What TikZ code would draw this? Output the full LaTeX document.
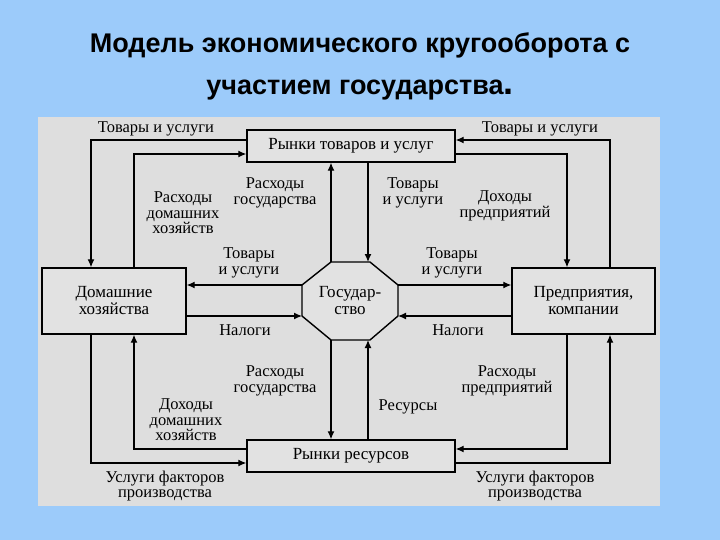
\documentclass[tikz,border=0pt]{standalone}
\usepackage{fontspec}
\setmainfont{Liberation Serif}
\newfontfamily\titlefont{Liberation Sans}
\usetikzlibrary{arrows.meta}
\definecolor{bgblue}{HTML}{9CCBFA}
\definecolor{panel}{HTML}{DEDEDE}
\definecolor{boxfill}{HTML}{E2E2E2}
\begin{document}
\begin{tikzpicture}[x=1pt,y=-1pt,
  box/.style={draw,line width=1.4pt,fill=boxfill,font=\fontsize{17}{17}\selectfont,align=center,inner sep=0pt},
  lbl/.style={font=\fontsize{16.5}{15.5}\selectfont,align=center,inner sep=1pt},
  flow/.style={line width=1.2pt,-{Latex[length=8pt,width=7pt]}}]
\fill[bgblue] (0,0) rectangle (720,540);
\useasboundingbox (0,0) rectangle (720,540);
\fill[panel] (38,117) rectangle (660,506);
\node[font=\titlefont\bfseries\fontsize{27}{28}\selectfont] (t1) at (360,45) {Модель экономического кругооборота с};
\node[font=\titlefont\bfseries\fontsize{27}{28}\selectfont] (t2) at (360,90) {участием государства\raisebox{0pt}{\fontsize{36}{36}\selectfont.}};
% boxes
\node[box,minimum width=208pt,minimum height=32pt] (gm) at (351,146) {Рынки товаров и услуг};
\node[box,minimum width=208pt,minimum height=32pt] (rm) at (351,456) {Рынки ресурсов};
\node[box,minimum width=144pt,minimum height=66pt] (hh) at (114,301) {Домашние\\хозяйства};
\node[box,minimum width=143pt,minimum height=66pt] (fi) at (583.5,301) {Предприятия,\\компании};
\draw[line width=1.4pt,fill=boxfill] (331,262)--(370,262)--(398,285)--(398,316)--(370,340)--(331,340)--(302,316)--(302,285)--cycle;
\node[font=\fontsize{17}{17}\selectfont,align=center] (gov) at (350,301) {Государ-\\ство};
\coordinate (govN) at (331,262); \coordinate (govN2) at (368,262);
\coordinate (govS) at (331,340); \coordinate (govS2) at (368,340);
% top loops
\coordinate (a1) at (91,140); \coordinate (a2) at (134,154);
\draw[flow] (gm.west |- a1) -| (hh.north -| a1);
\draw[flow] (hh.north -| a2) |- (gm.west |- a2);
\coordinate (b1) at (610,140); \coordinate (b2) at (567,154);
\draw[flow] (fi.north -| b1) |- (gm.east |- b1);
\draw[flow] (gm.east |- b2) -| (fi.north -| b2);
\draw[flow] (govN) -- (gm.south -| govN);
\draw[flow] (gm.south -| govN2) -- (govN2);
% bottom loops
\coordinate (c1) at (134,449); \coordinate (c2) at (91,463);
\draw[flow] (rm.west |- c1) -| (hh.south -| c1);
\draw[flow] (hh.south -| c2) |- (rm.west |- c2);
\coordinate (d1) at (567,449); \coordinate (d2) at (610,463);
\draw[flow] (fi.south -| d1) |- (rm.east |- d1);
\draw[flow] (rm.east |- d2) -| (fi.south -| d2);
\draw[flow] (govS) -- (rm.north -| govS);
\draw[flow] (rm.north -| govS2) -- (govS2);
% horizontal
\coordinate (e1) at (302,285); \coordinate (e2) at (302,316);
\coordinate (f1) at (398,285); \coordinate (f2) at (398,316);
\draw[flow] (e1) -- (hh.east |- e1);
\draw[flow] (hh.east |- e2) -- (e2);
\draw[flow] (f1) -- (fi.west |- f1);
\draw[flow] (fi.west |- f2) -- (f2);
% labels
\node[lbl] (l1) at (156,129) {Товары и услуги};
\node[lbl] (l2) at (540,129) {Товары и услуги};
\node[lbl] (l3) at (183,213) {Расходы\\домашних\\хозяйств};
\node[lbl] (l4) at (275,193) {Расходы\\государства};
\node[lbl] (l5) at (413,193) {Товары\\и услуги};
\node[lbl] (l6) at (505,206) {Доходы\\предприятий};
\node[lbl] (l7) at (249,263) {Товары\\и услуги};
\node[lbl] (l8) at (452,263) {Товары\\и услуги};
\node[lbl] (l9) at (245,330) {Налоги};
\node[lbl] (l10) at (458,330) {Налоги};
\node[lbl] (l11) at (275,381) {Расходы\\государства};
\node[lbl] (l12) at (186,420) {Доходы\\домашних\\хозяйств};
\node[lbl] (l13) at (408,407) {Ресурсы};
\node[lbl] (l14) at (507,381) {Расходы\\предприятий};
\node[lbl] (l15) at (165,486) {Услуги факторов\\производства};
\node[lbl] (l16) at (535,486) {Услуги факторов\\производства};
\end{tikzpicture}
\end{document}
